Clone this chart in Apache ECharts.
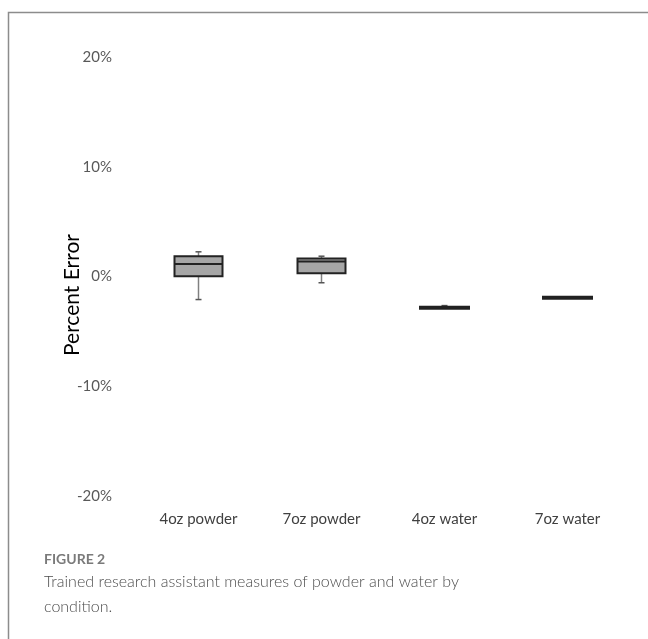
<!DOCTYPE html>
<html>
<head>
<meta charset="utf-8">
<script src="https://cdn.jsdelivr.net/npm/echarts@6/dist/echarts.min.js"></script>
<style>
html,body{margin:0;padding:0;background:#fff;}
#c{width:648px;height:639px;}
</style>
</head>
<body>
<div id="c"></div>
<script>
const categories = ['4oz powder', '7oz powder', '4oz water', '7oz water'];
// [min, Q1, median, Q3, max] in percent
const boxValues = [
  [-2.1, 0.03, 1.15, 1.85, 2.25],
  [-0.57, 0.3, 1.36, 1.64, 1.85],
  [-2.88, -2.9, -2.85, -2.8, -2.65],
  [-1.96, -1.99, -1.94, -1.89, -1.92]
];
const boxColors = ['#a6a6a6', '#a6a6a6', '#000000', '#000000'];
const yTicks = [-20, -10, 0, 10, 20];

const chart = echarts.init(document.getElementById('c'));
const font = 'Lato, "Open Sans", sans-serif';

function renderBox(params, api) {
  const i = api.value(0);
  const mn = api.value(1), q1 = api.value(2), md = api.value(3), q3 = api.value(4), mx = api.value(5);
  const x = api.coord([i, 0])[0];
  const yMin = api.coord([i, mn])[1], yQ1 = api.coord([i, q1])[1], yMd = api.coord([i, md])[1];
  const yQ3 = api.coord([i, q3])[1], yMax = api.coord([i, mx])[1];
  const w = 48, cap = 6;
  const fill = boxColors[params.dataIndex];
  const children = [];
  const wc = '#808080';
  children.push({ type: 'line', shape: { x1: x, y1: yQ3, x2: x, y2: yMax }, style: { stroke: wc, lineWidth: 1.5 } });
  children.push({ type: 'line', shape: { x1: x, y1: yQ1, x2: x, y2: yMin }, style: { stroke: wc, lineWidth: 1.5 } });
  children.push({ type: 'line', shape: { x1: x - cap / 2, y1: yMax, x2: x + cap / 2, y2: yMax }, style: { stroke: '#555', lineWidth: 1.5 } });
  children.push({ type: 'line', shape: { x1: x - cap / 2, y1: yMin, x2: x + cap / 2, y2: yMin }, style: { stroke: '#555', lineWidth: 1.5 } });
  children.push({ type: 'rect', shape: { x: x - w / 2, y: yQ3, width: w, height: yQ1 - yQ3 },
    style: { fill: fill, stroke: '#222', lineWidth: fill === '#000000' ? 3 : 2 } });
  children.push({ type: 'line', shape: { x1: x - w / 2, y1: yMd, x2: x + w / 2, y2: yMd }, style: { stroke: '#222', lineWidth: 2 } });
  return { type: 'group', children: children };
}

chart.setOption({
  backgroundColor: '#ffffff',
  animation: false,
  grid: { left: 137, right: 19, top: 57, bottom: 143 },
  xAxis: {
    type: 'category',
    data: categories,
    axisLine: { show: false },
    axisTick: { show: false },
    axisLabel: { color: '#404040', fontSize: 15, fontFamily: font, margin: 16 }
  },
  yAxis: {
    type: 'value',
    min: yTicks[0],
    max: yTicks[yTicks.length - 1],
    interval: 10,
    splitLine: { show: false },
    axisLine: { show: false },
    axisTick: { show: false },
    axisLabel: { color: '#595959', fontSize: 15, fontFamily: font, margin: 25, formatter: v => v + '%' }
  },
  series: [{
    type: 'custom',
    renderItem: renderBox,
    encode: { x: 0, y: [1, 2, 3, 4, 5] },
    data: boxValues.map((v, i) => [i].concat(v))
  }],
  graphic: [
    { type: 'polyline', shape: { points: [[8.5, 639], [8.5, 12.5], [648, 12.5]] },
      style: { stroke: '#8c8c8c', lineWidth: 1.5, fill: null } },
    { type: 'text', x: 72, y: 295, rotation: Math.PI / 2,
      style: { text: 'Percent Error', fill: '#000', fontSize: 21, fontFamily: font, align: 'center', verticalAlign: 'middle' } },
    { type: 'text', x: 44, y: 559,
      style: { text: 'FIGURE 2', fill: '#7a7a7a', fontSize: 14, fontWeight: 'bold', fontFamily: font, verticalAlign: 'middle' } },
    { type: 'text', x: 44, y: 582,
      style: { text: 'Trained research assistant measures of powder and water by', fill: '#4d4d4d', fontSize: 16, fontWeight: 300, fontFamily: font, verticalAlign: 'middle' } },
    { type: 'text', x: 44, y: 607,
      style: { text: 'condition.', fill: '#4d4d4d', fontSize: 16, fontWeight: 300, fontFamily: font, verticalAlign: 'middle' } }
  ]
});
</script>
</body>
</html>
